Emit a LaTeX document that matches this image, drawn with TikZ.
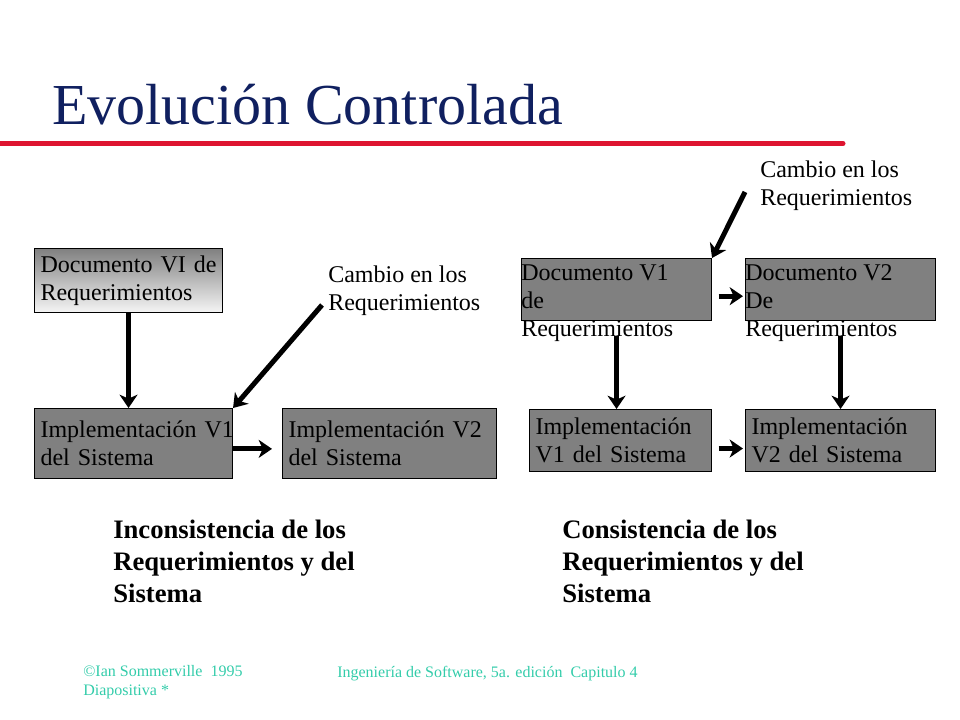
\documentclass[tikz,border=0pt]{standalone}
\usepackage{fontspec}
\setmainfont{Liberation Serif}
\usetikzlibrary{positioning,arrows.meta}
\definecolor{titulo}{RGB}{16,32,96}
\definecolor{rojo}{RGB}{222,20,48}
\definecolor{pie}{RGB}{51,204,170}
\definecolor{caja}{RGB}{128,128,128}

\begin{document}
\begin{tikzpicture}[x=0.75pt,y=-0.75pt,
   cuadro/.style={draw=black, line width=0.8pt, fill=caja, anchor=north west, inner xsep=4.5pt, inner ysep=0pt, align=left, font=\fontsize{18}{21}\selectfont},
   texto/.style={anchor=north west, inner sep=0pt, align=left, font=\fontsize{18}{21}\selectfont},
   nota/.style={anchor=north west, inner sep=0pt, align=left, font=\bfseries\fontsize{20}{24}\selectfont},
   piepag/.style={anchor=north west, inner sep=0pt, align=left, text=pie, font=\fontsize{12}{14.25}\selectfont},
   flecha/.style={line width=3.75pt, -{Stealth[length=10pt,width=13.5pt,inset=3pt]}}]
   \useasboundingbox (0,0) rectangle (960,720);

   \node[anchor=base west, inner sep=0pt, text=titulo, font=\fontsize{43.5}{50}\selectfont] (titulo) at (52,125) {Evolución Controlada};
   \draw[rojo, line width=3.75pt, line cap=round] (-10,143.5) -- (843,143.5);

   % sistema sin control
   \node[cuadro, minimum width=141pt, minimum height=48pt, text width=132pt, top color=caja, bottom color=gray!8] (docVI) at (34,248) {Documento VI de\\Requerimientos};
   \node[cuadro, minimum width=148.5pt, minimum height=52.5pt, text width=139.5pt] (implV1) at (34,408) {Implementación~V1\\del Sistema};
   \node[cuadro, minimum width=160.5pt, minimum height=52.5pt, text width=151.5pt] (implV2) at (282,408) {Implementación V2\\del Sistema};
   \node[texto] (cambioA) at (328,265.5) {Cambio en los\\Requerimientos};
   \coordinate (inicioA) at (322,305);

   \draw[flecha] (docVI.south) -- (docVI.south |- implV1.north);
   \draw[flecha] (inicioA) -- (implV1.north east);
   \draw[flecha, shorten >=7.5pt] ([yshift=-4pt]implV1.east) -- ([yshift=-4pt]implV2.west);

   % sistema controlado
   \node[cuadro, minimum width=142.5pt, minimum height=46.5pt] (docV1) at (521,258) {};
   \node[texto, below right=5pt and 0pt of docV1.north west] (docV1txt) {Documento V1\\de\\Requerimientos};
   \node[cuadro, minimum width=142.5pt, minimum height=46.5pt] (docV2) at (745,258) {};
   \node[texto, below right=5pt and 0pt of docV2.north west] (docV2txt) {Documento V2\\De\\Requerimientos};
   \node[cuadro, minimum width=136.5pt, minimum height=46.5pt, text width=127.5pt] (implW1) at (529,409) {Implementación\\V1 del Sistema};
   \node[cuadro, minimum width=142.5pt, minimum height=46.5pt, text width=133.5pt] (implW2) at (745,409) {Implementación\\V2 del Sistema};
   \node[texto] (cambioB) at (760,160.5) {Cambio en los\\Requerimientos};
   \coordinate (inicioB) at (745,192);

   \draw[flecha] (inicioB) -- (docV1.north east);
   \draw[flecha, shorten <=5pt, shorten >=1.5pt] ([yshift=-5pt]docV1.east) -- ([yshift=-5pt]docV2.west);
   \draw[flecha, shorten <=11pt] (docV1.south) -- (docV1.south |- implW1.north);
   \draw[flecha, shorten <=11pt] (docV2.south) -- (docV2.south |- implW2.north);
   \draw[flecha, shorten <=5pt, shorten >=1.5pt] ([yshift=-6pt]implW1.east) -- ([yshift=-6pt]implW2.west);

   \node[nota] (inconsistencia) at (113,520) {Inconsistencia de los\\Requerimientos y del\\Sistema};
   \node[nota] (consistencia) at (562,520) {Consistencia de los\\Requerimientos y del\\Sistema};

   \node[piepag] (autor) at (83,665.5) {©Ian Sommerville\ \ 1995\\Diapositiva *};
   \node[piepag] (libro) at (337,665.5) {Ingeniería de Software, 5a. edición\ \ Capitulo 4};
\end{tikzpicture}
\end{document}
